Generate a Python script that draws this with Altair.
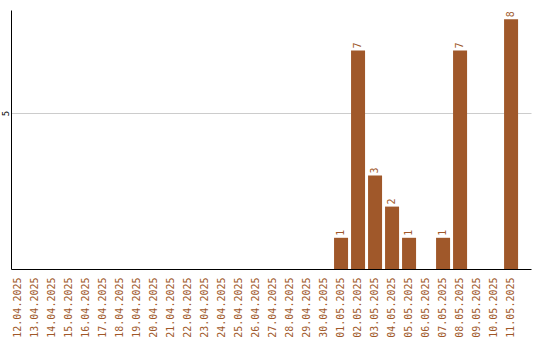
import altair as alt
import pandas as pd

dates = ["12.04.2025", "13.04.2025", "14.04.2025", "15.04.2025", "16.04.2025",
         "17.04.2025", "18.04.2025", "19.04.2025", "20.04.2025", "21.04.2025",
         "22.04.2025", "23.04.2025", "24.04.2025", "25.04.2025", "26.04.2025",
         "27.04.2025", "28.04.2025", "29.04.2025", "30.04.2025", "01.05.2025",
         "02.05.2025", "03.05.2025", "04.05.2025", "05.05.2025", "06.05.2025",
         "07.05.2025", "08.05.2025", "09.05.2025", "10.05.2025", "11.05.2025"]
counts = [0, 0, 0, 0, 0, 0, 0, 0, 0, 0,
          0, 0, 0, 0, 0, 0, 0, 0, 0, 1,
          7, 3, 2, 1, 0, 1, 7, 0, 0, 8]

df = pd.DataFrame({"date": dates, "count": counts})
color = "#A0582A"
font = "DejaVu Sans Mono"

x = alt.X("date:N", sort=dates, title=None,
          scale=alt.Scale(paddingInner=0.176, paddingOuter=0.38, align=0),
          axis=alt.Axis(labelAngle=-90, labelColor=color, labelFont=font,
                        labelFontSize=10, ticks=False, labelPadding=8,
                        domainColor="black", labelBaseline="middle", labelAlign="right"))
y = alt.Y("count:Q", title=None,
          scale=alt.Scale(domain=[0, 8.3], nice=False),
          axis=alt.Axis(values=[5], labelAngle=-90, labelFont=font, labelFontSize=9,
                        labelColor="black", ticks=False, labelPadding=6,
                        gridColor="#cccccc", domainColor="black",
                        labelAlign="center", labelBaseline="middle"))

bars = alt.Chart(df).mark_bar(color=color).encode(x=x, y=y)
texts = alt.Chart(df).transform_filter("datum.count > 0").mark_text(
    angle=270, align="left", baseline="middle", dx=2, color=color,
    font=font, fontSize=10).encode(x=x, y=y, text="count:Q")

chart = (bars + texts).properties(
    width=520, height=259,
    background="white",
    autosize=alt.AutoSizeParams(type="none"),
    padding={"left": 11, "top": 10, "right": 9, "bottom": 71},
).configure_view(strokeWidth=0, stroke="transparent")

chart.save("out.html", embed_options={"renderer": "svg", "actions": False})
